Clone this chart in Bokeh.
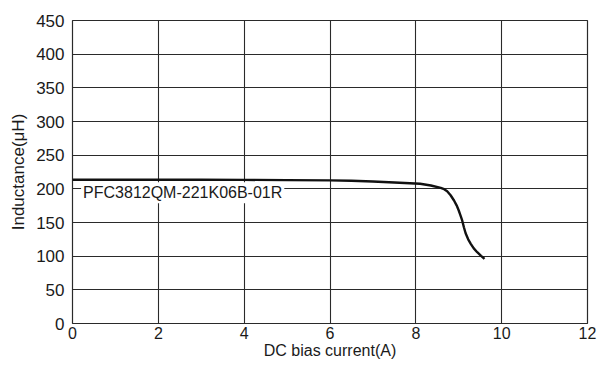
from bokeh.plotting import figure
from bokeh.models import Range1d, FixedTicker, Label
from bokeh.embed import file_html
from bokeh.resources import INLINE

# DC bias current (A) and inductance (uH)
current = [0, 1, 2, 3, 4, 5, 6, 6.5, 7, 7.5, 8.1, 8.35, 8.58, 8.66, 8.73,
           8.81, 8.89, 8.95, 9.0, 9.04, 9.08, 9.12, 9.16, 9.22, 9.28, 9.35,
           9.43, 9.52, 9.6]
inductance = [213.5, 213.5, 213.5, 213.4, 213.3, 213.0, 212.6, 212.0, 211.0,
              209.5, 207.5, 205.0, 201.5, 199.5, 196.5, 190.5, 182.7, 175.5,
              167.8, 160.5, 153.0, 143.0, 134.0, 125.0, 118.4, 111.5,
              105.9, 100.5, 96.0]

x_ticks = [0, 2, 4, 6, 8, 10, 12]
y_ticks = [0, 50, 100, 150, 200, 250, 300, 350, 400, 450]
series_name = "PFC3812QM-221K06B-01R"

FONT = "Liberation Sans"
TXT = "#1a1a1a"
GRID = "#2a2a2a"

p = figure(width=599, height=365, output_backend="svg", toolbar_location=None,
           x_range=Range1d(0, 12), y_range=Range1d(0, 450),
           min_border_left=72, min_border_right=12, min_border_top=20,
           min_border_bottom=42)

p.background_fill_color = "white"
p.border_fill_color = "white"
p.outline_line_color = GRID
p.outline_line_width = 1.2

p.xaxis.ticker = FixedTicker(ticks=x_ticks)
p.yaxis.ticker = FixedTicker(ticks=y_ticks)
for ax in (p.xaxis, p.yaxis):
    ax.axis_line_color = None
    ax.major_tick_line_color = None
    ax.minor_tick_line_color = None
    ax.major_tick_out = 0
    ax.major_tick_in = 0
    ax.major_label_text_font = FONT
    ax.major_label_text_font_size = "17px"
    ax.major_label_text_color = TXT
    ax.axis_label_text_font = FONT
    ax.axis_label_text_font_size = "17px"
    ax.axis_label_text_font_style = "normal"
    ax.axis_label_text_color = TXT
p.xaxis.major_label_text_font_size = "16px"
p.xaxis.axis_label_text_font_size = "16px"
p.xaxis.major_label_standoff = 3
p.yaxis.major_label_standoff = 8
p.xaxis.axis_label = "DC bias current(A)"
p.yaxis.axis_label = "Inductance(\u03bcH)"
p.xaxis.axis_label_standoff = 0
p.yaxis.axis_label_standoff = 5

p.xgrid.ticker = FixedTicker(ticks=x_ticks)
p.ygrid.ticker = FixedTicker(ticks=y_ticks)
p.grid.grid_line_color = GRID
p.grid.grid_line_width = 1.1
p.grid.grid_line_alpha = 1.0

p.line(current, inductance, line_color="#111111", line_width=2.4)

lab = Label(x=0.2, y=194, text=series_name, text_font=FONT,
            text_font_size="16px", text_color=TXT, text_baseline="middle",
            text_align="left", background_fill_color="white",
            background_fill_alpha=1.0, padding=2)
p.add_layout(lab)

open("out.html", "w").write(file_html(p, INLINE))
